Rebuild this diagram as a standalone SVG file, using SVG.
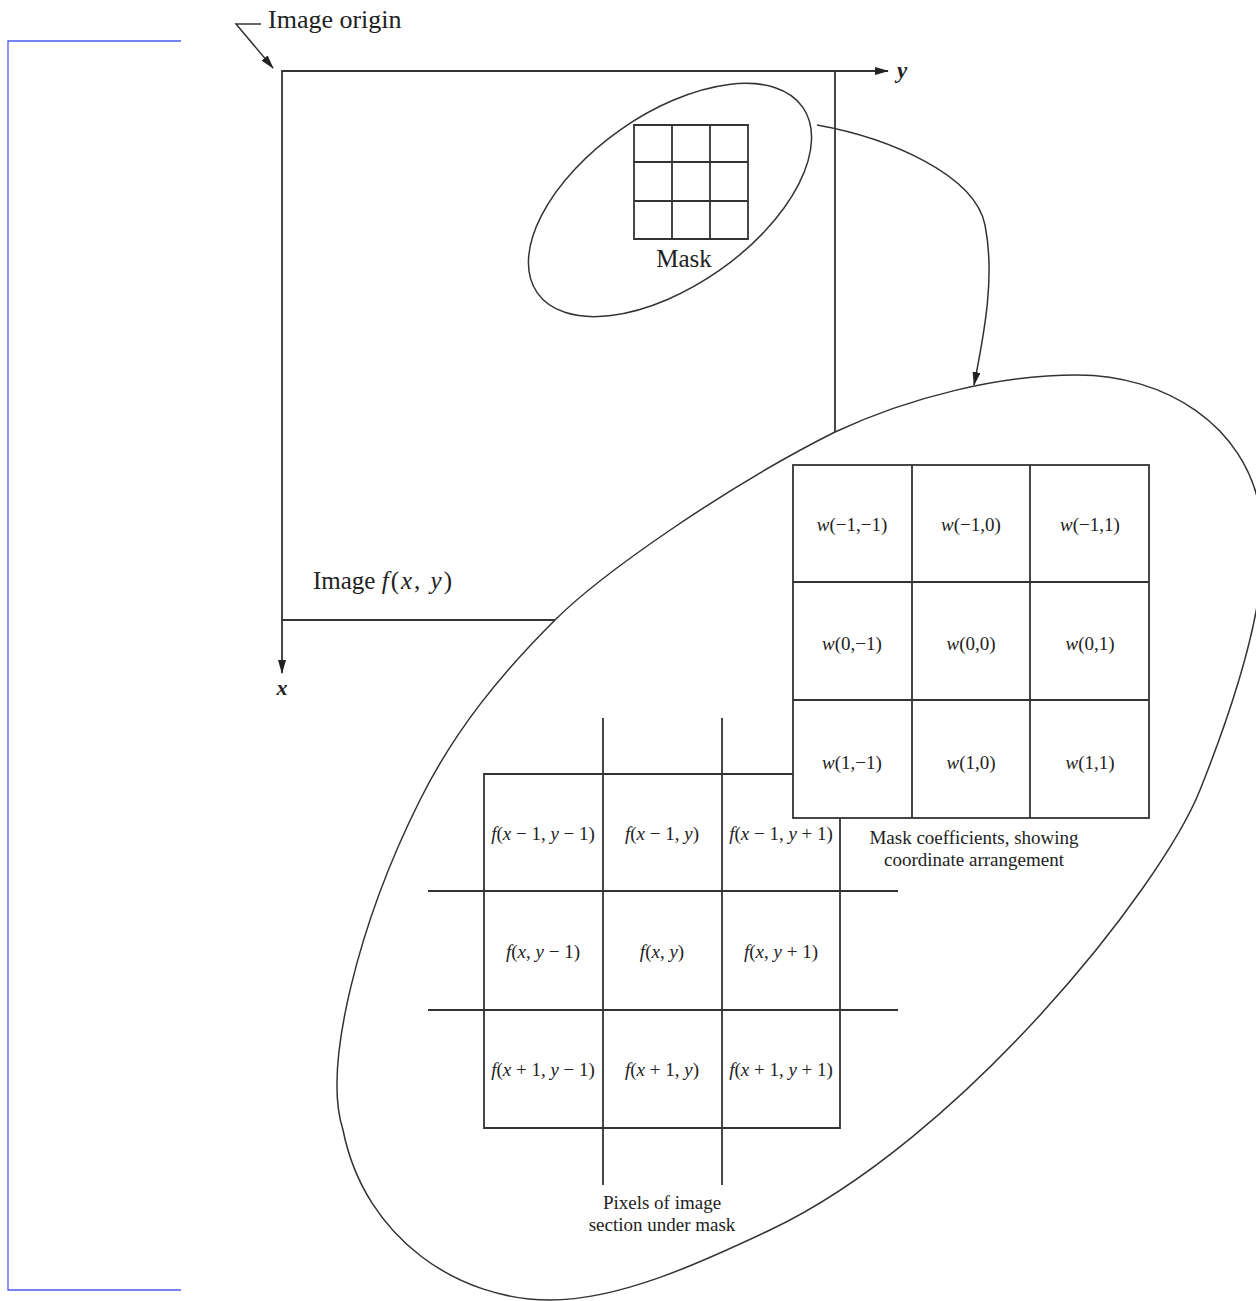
<svg xmlns="http://www.w3.org/2000/svg" width="1256" height="1301" viewBox="0 0 1256 1301">
<defs>
<marker id="ah" viewBox="0 0 14 8" markerWidth="14" markerHeight="8" refX="13" refY="4" orient="auto" markerUnits="userSpaceOnUse">
<path d="M0,0 L14,4 L0,8 z" fill="#222"/>
</marker>
<style>
.ln{stroke:#333;stroke-width:1.8;fill:none}
.thin{stroke:#333;stroke-width:1.5;fill:none}
.region{stroke:#333;stroke-width:1.5;fill:#fff}
.cell{stroke:#333;stroke-width:1.8;fill:#fff}
.t{font-family:"Liberation Serif","Times New Roman",serif;fill:#222}
.i{font-style:italic}
.lab{font-size:26px}
.cf{font-size:19px;text-anchor:middle}
.cap{font-size:19px;text-anchor:middle}
</style>
</defs>
<rect width="1256" height="1301" fill="#fff"/>

<g id="bracket">
<path d="M181,41 H8 V1290 H181" fill="none" stroke="#4a5cf0" stroke-width="1.3"/>
</g>

<g id="image">
<path class="ln" d="M282,71 H835 V620 H282 Z"/>
<text class="t" x="313" y="589" font-size="25">Image <tspan letter-spacing="2"><tspan class="i">f</tspan>(<tspan class="i">x</tspan>, <tspan class="i">y</tspan>)</tspan></text>
</g>

<g id="axes">
<line class="ln" x1="835" y1="71" x2="888" y2="71" marker-end="url(#ah)"/>
<text class="t i" x="897" y="78" font-size="23" font-weight="bold">y</text>
<line class="ln" x1="282" y1="620" x2="282" y2="673" marker-end="url(#ah)"/>
<text class="t i" x="282" y="695" font-size="22" font-weight="bold" text-anchor="middle">x</text>
</g>

<g id="image-origin">
<text class="t lab" x="268" y="28">Image origin</text>
</g>

<g id="small-mask">
<ellipse class="thin" cx="670" cy="200" rx="162" ry="86" transform="rotate(-35 670 200)"/>
<path class="ln" d="M634,125 H748 V239 H634 Z M672,125 V239 M710,125 V239 M634,162 H748 M634,201 H748"/>
<text class="t" x="684" y="267" font-size="25" text-anchor="middle">Mask</text>
</g>

<g id="big-region">
<path class="region" d="M1077,375 C1165,375 1245,425 1260,510 C1274,580 1240,690 1200,790 C1160,890 960,1140 770,1230 C700,1263 620,1300 550,1300 C460,1300 365,1240 343,1130 C322,1065 360,920 420,800 C455,730 500,675 555,620 C600,575 725,487 835,432 C910,397 1000,375 1077,375 Z"/>
</g>

<g id="pixel-grid">
<path class="ln" d="M603,718 V1185 M722,718 V1185 M428,891 H898 M428,1010 H898 M484,774 H840 V1128 H484 Z"/>
<text class="t cf" x="543" y="840"><tspan class="i">f</tspan>(<tspan class="i">x</tspan> − 1, <tspan class="i">y</tspan> − 1)</text>
<text class="t cf" x="662" y="840"><tspan class="i">f</tspan>(<tspan class="i">x</tspan> − 1, <tspan class="i">y</tspan>)</text>
<text class="t cf" x="781" y="840"><tspan class="i">f</tspan>(<tspan class="i">x</tspan> − 1, <tspan class="i">y</tspan> + 1)</text>
<text class="t cf" x="543" y="958"><tspan class="i">f</tspan>(<tspan class="i">x</tspan>, <tspan class="i">y</tspan> − 1)</text>
<text class="t cf" x="662" y="958"><tspan class="i">f</tspan>(<tspan class="i">x</tspan>, <tspan class="i">y</tspan>)</text>
<text class="t cf" x="781" y="958"><tspan class="i">f</tspan>(<tspan class="i">x</tspan>, <tspan class="i">y</tspan> + 1)</text>
<text class="t cf" x="543" y="1076"><tspan class="i">f</tspan>(<tspan class="i">x</tspan> + 1, <tspan class="i">y</tspan> − 1)</text>
<text class="t cf" x="662" y="1076"><tspan class="i">f</tspan>(<tspan class="i">x</tspan> + 1, <tspan class="i">y</tspan>)</text>
<text class="t cf" x="781" y="1076"><tspan class="i">f</tspan>(<tspan class="i">x</tspan> + 1, <tspan class="i">y</tspan> + 1)</text>
<text class="t cap" x="662" y="1209">Pixels of image</text>
<text class="t cap" x="662" y="1231">section under mask</text>
</g>

<g id="mask-coefficients">
<rect class="cell" x="793" y="465" width="356" height="353"/>
<path class="ln" d="M912,465 V818 M1030,465 V818 M793,582 H1149 M793,700 H1149"/>
<text class="t cf" x="852" y="531"><tspan class="i">w</tspan>(−1,−1)</text>
<text class="t cf" x="971" y="531"><tspan class="i">w</tspan>(−1,0)</text>
<text class="t cf" x="1090" y="531"><tspan class="i">w</tspan>(−1,1)</text>
<text class="t cf" x="852" y="650"><tspan class="i">w</tspan>(0,−1)</text>
<text class="t cf" x="971" y="650"><tspan class="i">w</tspan>(0,0)</text>
<text class="t cf" x="1090" y="650"><tspan class="i">w</tspan>(0,1)</text>
<text class="t cf" x="852" y="769"><tspan class="i">w</tspan>(1,−1)</text>
<text class="t cf" x="971" y="769"><tspan class="i">w</tspan>(1,0)</text>
<text class="t cf" x="1090" y="769"><tspan class="i">w</tspan>(1,1)</text>
<text class="t cap" x="974" y="844">Mask coefficients, showing</text>
<text class="t cap" x="974" y="866">coordinate arrangement</text>
</g>

<g id="connectors">
<path class="thin" d="M817,125 C890,138 975,175 985,225 C995,275 985,330 974,385" marker-end="url(#ah)"/>
<path class="thin" d="M261,24 H236 L273,68" marker-end="url(#ah)"/>
</g>
</svg>
